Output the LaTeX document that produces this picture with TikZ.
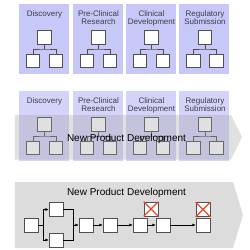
\documentclass[tikz,border=0pt]{standalone}
\usepackage{fontspec}
\setmainfont{Liberation Sans}
\usetikzlibrary{arrows.meta}
\definecolor{panelA}{RGB}{200,200,248}
\definecolor{panelB}{RGB}{212,212,250}
\definecolor{labelc}{RGB}{60,60,70}
\definecolor{boxline}{RGB}{80,80,80}
\definecolor{arrowgray}{RGB}{160,160,160}
\definecolor{bottomgray}{RGB}{220,220,220}
\definecolor{xred}{RGB}{235,70,45}
\begin{document}
\begin{tikzpicture}[x=1pt,y=-1pt,
  panel/.style={fill=#1,draw=none},
  plabel/.style={anchor=north,inner sep=0pt,align=center,text=labelc,font=\fontsize{8}{8.7}\selectfont},
  tbox/.style={draw=boxline,fill=white,line width=0.6pt,minimum width=13.5pt,minimum height=13.5pt,inner sep=0pt},
  tline/.style={draw=boxline,line width=0.6pt},
  fbox/.style={draw=boxline,fill=white,line width=0.6pt,minimum width=14pt,minimum height=14pt,inner sep=0pt},
  flow/.style={draw=black,line width=0.5pt,-{Latex[length=3.2pt,width=2.8pt]}},
  fline/.style={draw=black,line width=0.5pt},
  title/.style={anchor=base,inner sep=0pt,font=\fontsize{10}{12}\selectfont},
  xmark/.style={draw=xred,line width=1.4pt}
]
\useasboundingbox (0,0) rectangle (250,250);
\fill[white] (0,0) rectangle (250,250);

% ---------- top section ----------
\foreach \i/\px/\lab in {1/19/{Discovery},2/73/{Pre-Clinical\\Research},3/126/{Clinical\\Development},4/179.5/{Regulatory\\Submission}}{
  \fill[panelA] (\px,3.5) rectangle ++(50,70.5);
  \pgfmathsetmacro{\cx}{\px+25.5}
  \node[plabel] (tl\i) at (\cx,10) {\lab};
  \node[tbox] (tt\i) at (\cx,37.3) {};
  \node[tbox] (tb\i a) at (\cx-11.5,61) {};
  \node[tbox] (tb\i b) at (\cx+11.5,61) {};
  \coordinate (tj\i) at (\cx,49);
  \draw[tline] (tt\i.south) -- (tj\i);
  \draw[tline] (tb\i a.north) |- (tj\i) -| (tb\i b.north);
}

% ---------- middle section ----------
\foreach \i/\px/\lab in {1/19/{Discovery},2/73/{Pre-Clinical\\Research},3/126/{Clinical\\Development},4/179.5/{Regulatory\\Submission}}{
  \fill[panelB] (\px,90.5) rectangle ++(50,70);
  \pgfmathsetmacro{\cx}{\px+25.5}
  \node[plabel] (ml\i) at (\cx,97) {\lab};
  \node[tbox] (mt\i) at (\cx,124.3) {};
  \node[tbox] (mb\i a) at (\cx-11.5,148) {};
  \node[tbox] (mb\i b) at (\cx+11.5,148) {};
  \coordinate (mj\i) at (\cx,136);
  \draw[tline] (mt\i.south) -- (mj\i);
  \draw[tline] (mb\i a.north) |- (mj\i) -| (mb\i b.north);
}
\fill[arrowgray,opacity=0.32] (15,115) -- (231,115) -- (242,137) -- (231,159.5) -- (15,159.5) -- cycle;
\node[title] (mtitle) at (126.5,141) {New Product Development};

% ---------- bottom section ----------
\fill[bottomgray] (15,182) -- (233,182) -- (243,215) -- (233,248) -- (15,248) -- cycle;
\node[title] (btitle) at (126.5,195) {New Product Development};

\node[fbox] (b1) at (31,225) {};
\node[fbox] (b2) at (56,209.5) {};
\node[fbox] (b3) at (56,240) {};
\node[fbox] (b4) at (86,225) {};
\node[fbox] (b5) at (110,225) {};
\node[fbox] (b6) at (140,225) {};
\node[fbox] (b7) at (163,225) {};
\node[fbox] (b8) at (203,225) {};
\node[fbox] (x1) at (151,209) {};
\node[fbox] (x2) at (203,209.5) {};
\draw[xmark] (x1.north west) -- (x1.south east) (x1.north east) -- (x1.south west);
\draw[xmark] (x2.north west) -- (x2.south east) (x2.north east) -- (x2.south west);

\coordinate (jl) at (43,225);
\coordinate (jlt) at (43,209.5);
\coordinate (jlb) at (43,240);
\coordinate (jr) at (73,225);
\coordinate (jrt) at (73,209.5);
\coordinate (jrb) at (73,240);
\draw[fline] (b1.east) -- (jl);
\draw[fline] (jlt) -- (jlb);
\draw[flow] (jlt) -- (b2.west);
\draw[flow] (jlb) -- (b3.west);
\draw[fline] (b2.east) -- (jrt) -- (jrb) -- (b3.east);
\draw[flow] (jr) -- (b4.west);
\draw[flow] (b4.east) -- (b5.west);
\draw[flow] (b5.east) -- (b6.west);
\draw[flow] (b6.east) -- (b7.west);
\draw[flow] (b7.east) -- (b8.west);
\end{tikzpicture}
\end{document}
